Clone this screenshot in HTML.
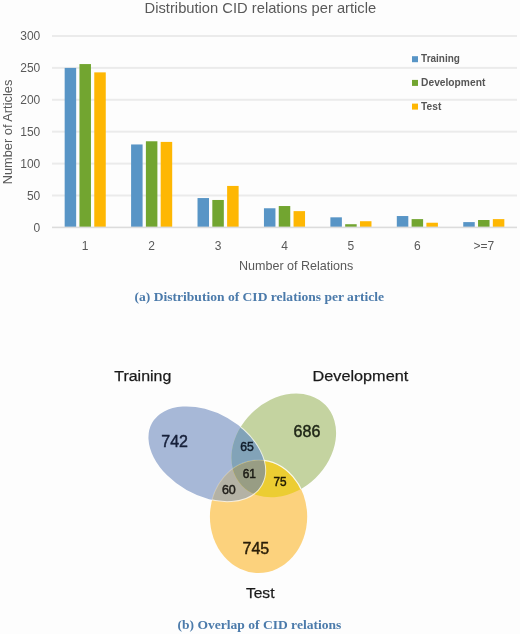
<!DOCTYPE html>
<html><head><meta charset="utf-8"><title>CID relations</title>
<style>html,body{margin:0;padding:0;background:#fdfdfd;} svg{display:block;will-change:transform;filter:blur(0.35px);}</style>
</head><body>
<svg width="520" height="634" viewBox="0 0 520 634">
<defs>
<clipPath id="cB"><ellipse cx="207" cy="454" rx="63.1" ry="41.4" transform="rotate(29.6 207 454)" fill="#000" /></clipPath>
<clipPath id="cG"><ellipse cx="283.75" cy="445.4" rx="58" ry="45.5" transform="rotate(-44 283.75 445.4)" fill="#000" /></clipPath>
<clipPath id="cY"><ellipse cx="258.55" cy="516.6" rx="48.65" ry="56.5" transform="rotate(0 258.55 516.6)" fill="#000" /></clipPath>
<mask id="mNotB" maskUnits="userSpaceOnUse" x="0" y="0" width="520" height="634"><rect width="520" height="634" fill="#000"/><ellipse cx="283.75" cy="445.4" rx="58" ry="45.5" transform="rotate(-44 283.75 445.4)" fill="#fff" /><ellipse cx="207" cy="454" rx="63.1" ry="41.4" transform="rotate(29.6 207 454)" fill="#333" /></mask>
<mask id="mBS" maskUnits="userSpaceOnUse" x="0" y="0" width="520" height="634"><rect width="520" height="634" fill="#000"/><ellipse cx="283.75" cy="445.4" rx="58" ry="45.5" transform="rotate(-44 283.75 445.4)" fill="#fff" /><ellipse cx="258.55" cy="516.6" rx="48.65" ry="56.5" transform="rotate(0 258.55 516.6)" fill="#fff" /></mask>
</defs>
<rect width="520" height="634" fill="#fdfdfd"/>
<rect x="52.0" y="194.50" width="465.0" height="2" fill="#ebebeb"/>
<rect x="52.0" y="162.60" width="465.0" height="2" fill="#ebebeb"/>
<rect x="52.0" y="130.70" width="465.0" height="2" fill="#ebebeb"/>
<rect x="52.0" y="98.80" width="465.0" height="2" fill="#ebebeb"/>
<rect x="52.0" y="66.90" width="465.0" height="2" fill="#ebebeb"/>
<rect x="52.0" y="35.00" width="465.0" height="2" fill="#ebebeb"/>
<rect x="64.66" y="67.90" width="11.5" height="159.50" fill="#5895c6"/>
<rect x="79.46" y="64.07" width="11.5" height="163.33" fill="#72a530"/>
<rect x="94.26" y="72.37" width="11.5" height="155.03" fill="#feb703"/>
<rect x="131.09" y="144.46" width="11.5" height="82.94" fill="#5895c6"/>
<rect x="145.89" y="141.27" width="11.5" height="86.13" fill="#72a530"/>
<rect x="160.69" y="141.91" width="11.5" height="85.49" fill="#feb703"/>
<rect x="197.52" y="198.05" width="11.5" height="29.35" fill="#5895c6"/>
<rect x="212.32" y="199.97" width="11.5" height="27.43" fill="#72a530"/>
<rect x="227.12" y="185.93" width="11.5" height="41.47" fill="#feb703"/>
<rect x="263.95" y="208.26" width="11.5" height="19.14" fill="#5895c6"/>
<rect x="278.75" y="206.03" width="11.5" height="21.37" fill="#72a530"/>
<rect x="293.55" y="211.13" width="11.5" height="16.27" fill="#feb703"/>
<rect x="330.38" y="217.32" width="11.5" height="10.08" fill="#5895c6"/>
<rect x="345.18" y="224.21" width="11.5" height="3.19" fill="#72a530"/>
<rect x="359.98" y="221.21" width="11.5" height="6.19" fill="#feb703"/>
<rect x="396.81" y="216.04" width="11.5" height="11.36" fill="#5895c6"/>
<rect x="411.61" y="219.11" width="11.5" height="8.29" fill="#72a530"/>
<rect x="426.41" y="222.74" width="11.5" height="4.66" fill="#feb703"/>
<rect x="463.24" y="222.10" width="11.5" height="5.30" fill="#5895c6"/>
<rect x="478.04" y="220.00" width="11.5" height="7.40" fill="#72a530"/>
<rect x="492.84" y="219.11" width="11.5" height="8.29" fill="#feb703"/>
<rect x="52.0" y="226.6" width="465.0" height="1.6" fill="#dcdcdc"/>
<text x="40.3" y="231.60" font-family="Liberation Sans" font-size="12" font-weight="normal" fill="#595959" text-anchor="end" >0</text>
<text x="40.3" y="199.70" font-family="Liberation Sans" font-size="12" font-weight="normal" fill="#595959" text-anchor="end" >50</text>
<text x="40.3" y="167.80" font-family="Liberation Sans" font-size="12" font-weight="normal" fill="#595959" text-anchor="end" >100</text>
<text x="40.3" y="135.90" font-family="Liberation Sans" font-size="12" font-weight="normal" fill="#595959" text-anchor="end" >150</text>
<text x="40.3" y="104.00" font-family="Liberation Sans" font-size="12" font-weight="normal" fill="#595959" text-anchor="end" >200</text>
<text x="40.3" y="72.10" font-family="Liberation Sans" font-size="12" font-weight="normal" fill="#595959" text-anchor="end" >250</text>
<text x="40.3" y="40.20" font-family="Liberation Sans" font-size="12" font-weight="normal" fill="#595959" text-anchor="end" >300</text>
<text x="85.21" y="249.6" font-family="Liberation Sans" font-size="12" font-weight="normal" fill="#595959" text-anchor="middle" >1</text>
<text x="151.64" y="249.6" font-family="Liberation Sans" font-size="12" font-weight="normal" fill="#595959" text-anchor="middle" >2</text>
<text x="218.07" y="249.6" font-family="Liberation Sans" font-size="12" font-weight="normal" fill="#595959" text-anchor="middle" >3</text>
<text x="284.50" y="249.6" font-family="Liberation Sans" font-size="12" font-weight="normal" fill="#595959" text-anchor="middle" >4</text>
<text x="350.93" y="249.6" font-family="Liberation Sans" font-size="12" font-weight="normal" fill="#595959" text-anchor="middle" >5</text>
<text x="417.36" y="249.6" font-family="Liberation Sans" font-size="12" font-weight="normal" fill="#595959" text-anchor="middle" >6</text>
<text x="483.79" y="249.6" font-family="Liberation Sans" font-size="12" font-weight="normal" fill="#595959" text-anchor="middle" >&gt;=7</text>
<text x="144.6" y="13.2" font-family="Liberation Sans" font-size="14.4" font-weight="normal" fill="#595959" text-anchor="start" textLength="231.6" lengthAdjust="spacingAndGlyphs" >Distribution CID relations per article</text>
<text x="239.0" y="269.7" font-family="Liberation Sans" font-size="12.4" font-weight="normal" fill="#595959" text-anchor="start" textLength="114.3" lengthAdjust="spacingAndGlyphs" >Number of Relations</text>
<text transform="translate(12.2,184.3) rotate(-90)" font-family="Liberation Sans" font-size="12.4" fill="#595959" textLength="104.6" lengthAdjust="spacingAndGlyphs">Number of Articles</text>
<rect x="412" y="56.20" width="6" height="6" fill="#5895c6"/>
<text x="421.1" y="62.20" font-family="Liberation Sans" font-size="10.7" font-weight="bold" fill="#555555" text-anchor="start" textLength="38.8" lengthAdjust="spacingAndGlyphs" >Training</text>
<rect x="412" y="79.90" width="6" height="6" fill="#72a530"/>
<text x="421.1" y="85.90" font-family="Liberation Sans" font-size="10.7" font-weight="bold" fill="#555555" text-anchor="start" textLength="64.2" lengthAdjust="spacingAndGlyphs" >Development</text>
<rect x="412" y="103.60" width="6" height="6" fill="#feb703"/>
<text x="421.1" y="109.60" font-family="Liberation Sans" font-size="10.7" font-weight="bold" fill="#555555" text-anchor="start" textLength="20.2" lengthAdjust="spacingAndGlyphs" >Test</text>
<text x="134.5" y="300.7" font-family="Liberation Serif" font-size="13.0" font-weight="bold" fill="#4c7bab" text-anchor="start" textLength="249.5" lengthAdjust="spacingAndGlyphs" >(a) Distribution of CID relations per article</text>
<ellipse cx="207" cy="454" rx="63.1" ry="41.4" transform="rotate(29.6 207 454)" fill="#a7b8d7" />
<ellipse cx="283.75" cy="445.4" rx="58" ry="45.5" transform="rotate(-44 283.75 445.4)" fill="#c4d3a0" />
<ellipse cx="258.55" cy="516.6" rx="48.65" ry="56.5" transform="rotate(0 258.55 516.6)" fill="#fcd27d" />
<g clip-path="url(#cB)"><ellipse cx="283.75" cy="445.4" rx="58" ry="45.5" transform="rotate(-44 283.75 445.4)" fill="#82a3b8" /></g>
<g clip-path="url(#cB)"><ellipse cx="258.55" cy="516.6" rx="48.65" ry="56.5" transform="rotate(0 258.55 516.6)" fill="#b4b2a5" /></g>
<g clip-path="url(#cG)"><ellipse cx="258.55" cy="516.6" rx="48.65" ry="56.5" transform="rotate(0 258.55 516.6)" fill="#eccd32" /></g>
<g clip-path="url(#cB)"><g clip-path="url(#cG)"><ellipse cx="258.55" cy="516.6" rx="48.65" ry="56.5" transform="rotate(0 258.55 516.6)" fill="#989d84" /></g></g>
<g mask="url(#mNotB)"><ellipse cx="258.55" cy="516.6" rx="48.65" ry="56.5" transform="rotate(0 258.55 516.6)" fill="none" stroke="#ffffff" stroke-width="1.2" stroke-opacity="0.85"/></g>
<g mask="url(#mBS)"><ellipse cx="207" cy="454" rx="63.1" ry="41.4" transform="rotate(29.6 207 454)" fill="none" stroke="#ffffff" stroke-width="1.0" stroke-opacity="0.7"/></g>
<text x="161.3" y="446.7" font-family="Liberation Sans" font-size="16" font-weight="normal" fill="#17203a" text-anchor="start" stroke="#17203a" stroke-width="0.45">742</text>
<text x="293.6" y="436.6" font-family="Liberation Sans" font-size="16" font-weight="normal" fill="#1c2314" text-anchor="start" stroke="#1c2314" stroke-width="0.45">686</text>
<text x="242.5" y="554.2" font-family="Liberation Sans" font-size="16" font-weight="normal" fill="#2a1e08" text-anchor="start" stroke="#2a1e08" stroke-width="0.45">745</text>
<text x="240.3" y="450.8" font-family="Liberation Sans" font-size="12.2" font-weight="normal" fill="#101c2a" text-anchor="start" textLength="13.6" lengthAdjust="spacingAndGlyphs" stroke="#101c2a" stroke-width="0.45">65</text>
<text x="242.7" y="477.7" font-family="Liberation Sans" font-size="12" font-weight="normal" fill="#1a1a14" text-anchor="start" textLength="13.3" lengthAdjust="spacingAndGlyphs" stroke="#1a1a14" stroke-width="0.45">61</text>
<text x="221.9" y="493.8" font-family="Liberation Sans" font-size="12" font-weight="normal" fill="#1f1d18" text-anchor="start" textLength="13.9" lengthAdjust="spacingAndGlyphs" stroke="#1f1d18" stroke-width="0.45">60</text>
<text x="273.4" y="485.8" font-family="Liberation Sans" font-size="12" font-weight="normal" fill="#201a04" text-anchor="start" textLength="13.1" lengthAdjust="spacingAndGlyphs" stroke="#201a04" stroke-width="0.45">75</text>
<text x="114.3" y="380.9" font-family="Liberation Sans" font-size="15.5" font-weight="normal" fill="#1a1a1a" text-anchor="start" textLength="57.0" lengthAdjust="spacingAndGlyphs" stroke="#1a1a1a" stroke-width="0.25">Training</text>
<text x="312.6" y="381" font-family="Liberation Sans" font-size="15.5" font-weight="normal" fill="#1a1a1a" text-anchor="start" textLength="95.6" lengthAdjust="spacingAndGlyphs" stroke="#1a1a1a" stroke-width="0.25">Development</text>
<text x="245.9" y="598.1" font-family="Liberation Sans" font-size="15.5" font-weight="normal" fill="#1a1a1a" text-anchor="start" textLength="28.6" lengthAdjust="spacingAndGlyphs" stroke="#1a1a1a" stroke-width="0.25">Test</text>
<text x="177.5" y="628.7" font-family="Liberation Serif" font-size="13.2" font-weight="bold" fill="#4c7bab" text-anchor="start" textLength="163.8" lengthAdjust="spacingAndGlyphs" >(b) Overlap of CID relations</text>
</svg>
</body></html>
